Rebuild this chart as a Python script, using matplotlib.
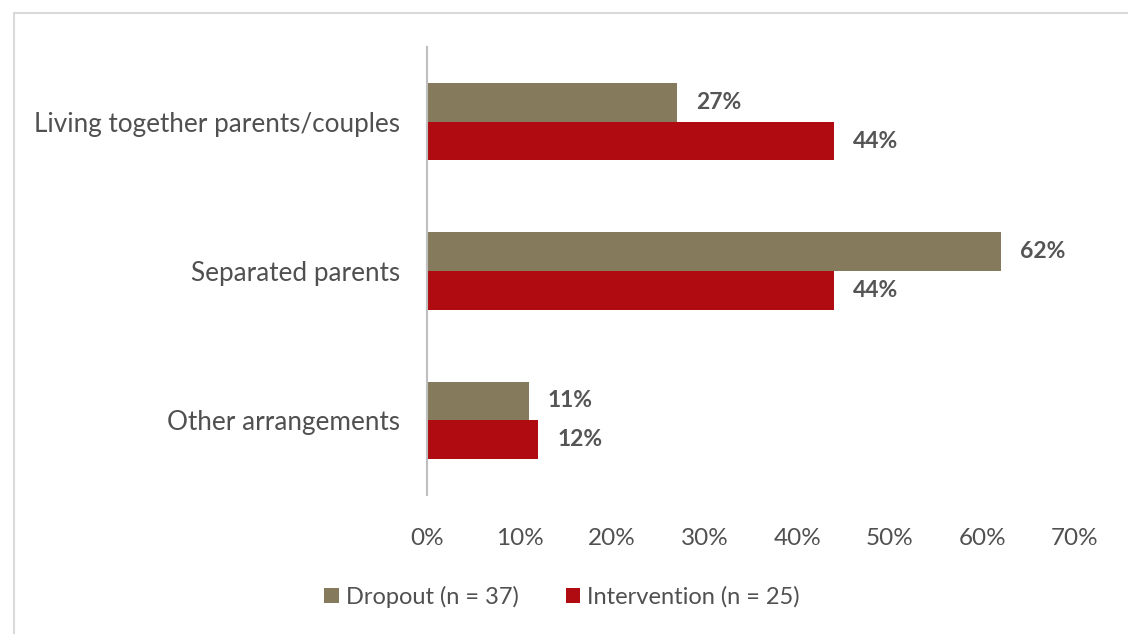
import matplotlib
matplotlib.use("Agg")
import matplotlib.pyplot as plt
from matplotlib.patches import Rectangle
from matplotlib.ticker import FuncFormatter

plt.rcParams['font.family'] = ['Lato', 'DejaVu Sans']

categories = ["Living together parents/couples", "Separated parents", "Other arrangements"]
series_names = ["Dropout (n = 37)", "Intervention (n = 25)"]
dropout = [27, 62, 11]
intervention = [44, 44, 12]
x_ticks = [0, 10, 20, 30, 40, 50, 60, 70]

colors = ["#857B5C", "#AF0B10"]
text_color = "#505050"

W, H = 1128, 634
fig = plt.figure(figsize=(W / 100, H / 100), dpi=100)
fig.patch.set_facecolor("white")

# light frame around the chart area
fig.add_artist(Rectangle((14 / W, -0.05), 1.2, 1 - 13 / H + 0.05,
                         transform=fig.transFigure, fill=False,
                         edgecolor="#D9D9D9", linewidth=1.5))

ax = fig.add_axes([427 / W, 1 - 495 / H, (1075 - 427) / W, (495 - 47) / H])

bar_h = 0.26
ypos = list(range(len(categories)))
b1 = ax.barh([y - bar_h / 2 for y in ypos], dropout, height=bar_h,
             color=colors[0], label=series_names[0])
b2 = ax.barh([y + bar_h / 2 for y in ypos], intervention, height=bar_h,
             color=colors[1], label=series_names[1])

for bars, vals in ((b1, dropout), (b2, intervention)):
    for rect, v in zip(bars, vals):
        ax.annotate(f"{v}%", (v, rect.get_y() + rect.get_height() / 2),
                    xytext=(19, 0), textcoords="offset pixels",
                    ha="left", va="center", fontsize=16.5, fontweight="bold",
                    color="#555555")

ax.set_xlim(0, 70)
ax.set_ylim(2.5, -0.5)
ax.set_yticks(ypos)
ax.set_yticklabels(categories, fontsize=18.8, color=text_color)
ax.set_xticks(x_ticks)
ax.xaxis.set_major_formatter(FuncFormatter(lambda v, p: f"{v:.0f}%"))
ax.tick_params(axis="x", labelsize=17.5, labelcolor=text_color, length=0, pad=23.5)
ax.tick_params(axis="y", length=0, pad=19.5)
for s in ("top", "right", "bottom"):
    ax.spines[s].set_visible(False)
ax.spines["left"].set_color("#BFBFBF")
ax.spines["left"].set_linewidth(1.5)

leg = fig.legend(loc="center", bbox_to_anchor=(562 / W, 1 - 597 / H), ncol=2,
                 frameon=False, fontsize=17, handlelength=0.6, handleheight=0.6,
                 handletextpad=0.3, columnspacing=2.0)
for t in leg.get_texts():
    t.set_color(text_color)

fig.savefig("out.png", dpi=100)
